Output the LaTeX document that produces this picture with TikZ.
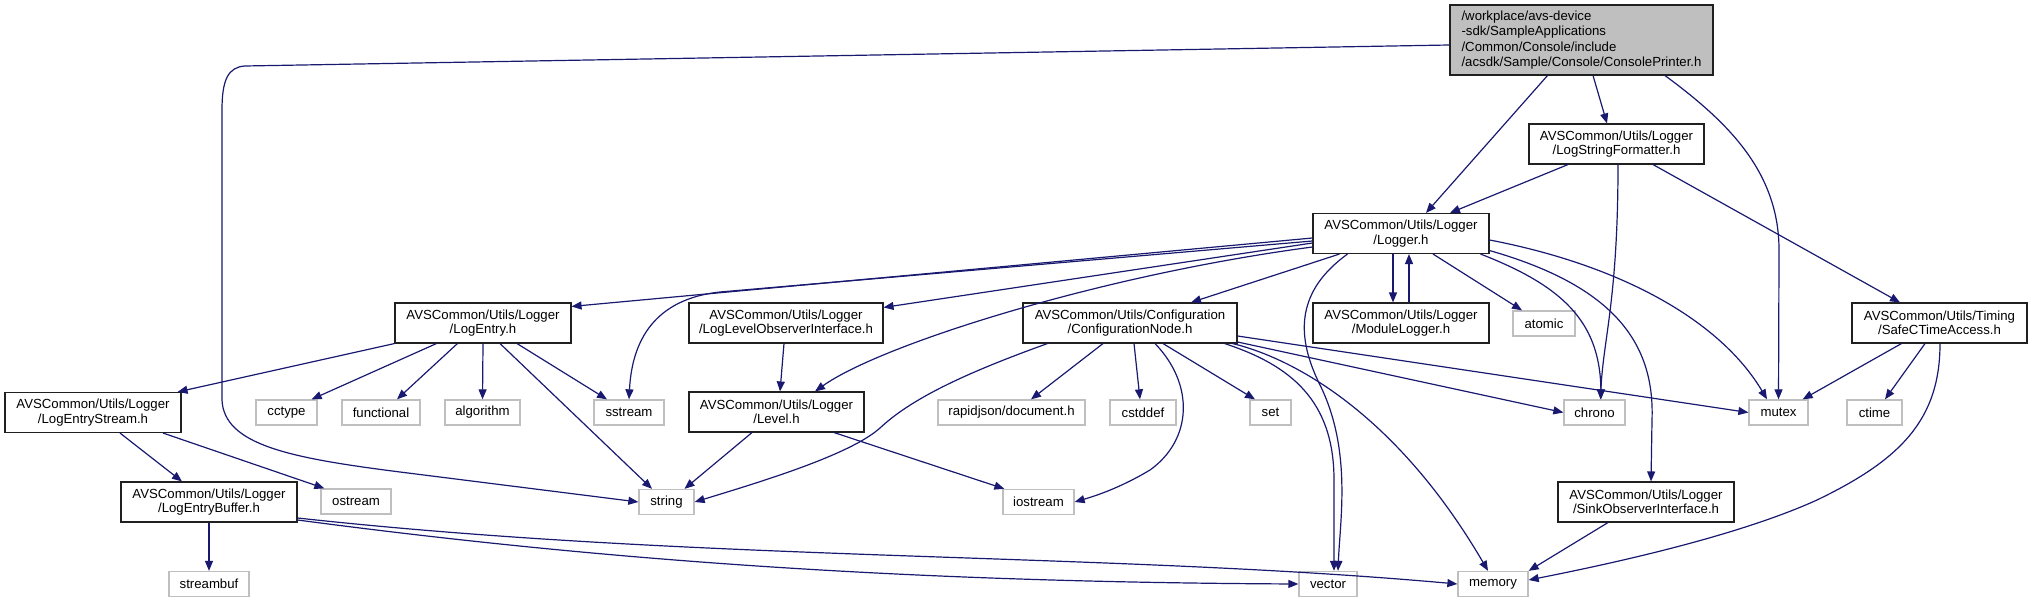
\documentclass[tikz,border=0pt]{standalone}
\usepackage{fontspec}
\setmainfont{Liberation Sans}
\usetikzlibrary{arrows.meta,calc}
\definecolor{edgeblue}{HTML}{191970}
\definecolor{lgray}{HTML}{BFBFBF}
\definecolor{rootgray}{HTML}{BFBFBF}
\definecolor{boxline}{HTML}{202020}
\newcommand{\fsn}{\fontsize{6.6}{7.2}\selectfont}
\newcommand{\fsr}{\fontsize{6.6}{7.8}\selectfont}
\begin{document}
\begin{tikzpicture}[x=0.5pt,y=-0.5pt,
  box/.style={draw=boxline, fill=white, line width=0.55pt, inner sep=0pt, minimum height=20pt, align=center, font=\fsn},
  lbox/.style={draw=lgray, fill=white, line width=0.65pt, inner sep=0pt, minimum height=12.5pt, align=center, font=\fsn},
  edge/.style={draw=edgeblue, line width=0.6pt, -{Triangle[length=5pt,width=4pt]}}]
\useasboundingbox (0,0) rectangle (2033,603);

% nodes
\node[box, fill=rootgray, minimum width=131.5pt, minimum height=35pt, align=left, font=\fsr] (root) at (1581.5,40) {/workplace/avs-device\\-sdk/SampleApplications\\/Common/Console/include\\/acsdk/Sample/Console/ConsolePrinter.h};
\node[box, minimum width=87.5pt] (lsf) at (1616.5,144) {AVSCommon/Utils/Logger\\/LogStringFormatter.h};
\node[box, minimum width=88pt] (logger) at (1401,233.5) {AVSCommon/Utils/Logger\\/Logger.h};
\node[box, minimum width=88pt] (logentry) at (483,323) {AVSCommon/Utils/Logger\\/LogEntry.h};
\node[box, minimum width=97pt] (llo) at (786,323) {AVSCommon/Utils/Logger\\/LogLevelObserverInterface.h};
\node[box, minimum width=107pt] (confnode) at (1130,323) {AVSCommon/Utils/Configuration\\/ConfigurationNode.h};
\node[box, minimum width=88pt] (modlog) at (1401,323) {AVSCommon/Utils/Logger\\/ModuleLogger.h};
\node[lbox, minimum width=31pt] (atomic) at (1544,323.5) {atomic};
\node[box, minimum width=87.5pt] (safetime) at (1939.5,323) {AVSCommon/Utils/Timing\\/SafeCTimeAccess.h};
\node[box, minimum width=88pt] (les) at (93,412.5) {AVSCommon/Utils/Logger\\/LogEntryStream.h};
\node[lbox, minimum width=30.5pt] (cctype) at (286.5,412.5) {cctype};
\node[lbox, minimum width=39pt] (functional) at (381,412.5) {functional};
\node[lbox, minimum width=37.5pt] (algorithm) at (482.5,412.5) {algorithm};
\node[lbox, minimum width=35pt] (sstream) at (629,412.5) {sstream};
\node[box, minimum width=87.5pt] (level) at (776.5,412) {AVSCommon/Utils/Logger\\/Level.h};
\node[lbox, minimum width=73.5pt] (rapidjson) at (1011.5,412.5) {rapidjson/document.h};
\node[lbox, minimum width=33pt] (cstddef) at (1143,412.5) {cstddef};
\node[lbox, minimum width=20.5pt] (set) at (1270.5,412.5) {set};
\node[lbox, minimum width=30.5pt] (chrono) at (1594.5,412.5) {chrono};
\node[lbox, minimum width=29.5pt] (mutex) at (1778.5,412.5) {mutex};
\node[lbox, minimum width=27.5pt] (ctime) at (1874.5,412.5) {ctime};
\node[box, minimum width=88pt] (leb) at (209,502) {AVSCommon/Utils/Logger\\/LogEntryBuffer.h};
\node[lbox, minimum width=35pt] (ostream) at (356,501.5) {ostream};
\node[lbox, minimum width=27.5pt] (string) at (666.5,502) {string};
\node[lbox, minimum width=35.5pt] (iostream) at (1038.5,502) {iostream};
\node[box, minimum width=88pt] (sink) at (1646,502) {AVSCommon/Utils/Logger\\/SinkObserverInterface.h};
\node[lbox, minimum width=40pt] (streambuf) at (209,584) {streambuf};
\node[lbox, minimum width=29pt] (vector) at (1328,584) {vector};
\node[lbox, minimum width=35pt] (memory) at (1493,584) {memory};

% root edges
\draw[edge] ([yshift=-2.5pt]root.west) -- (245,66) .. controls (228,67) and (222,80) .. (222,110) -- (222,400) .. controls (224,445) and (290,458) .. (400,472) -- (string.west);
\draw[edge] ([xshift=-17pt]root.south) -- ([xshift=12.5pt]logger.north);
\draw[edge] ([xshift=5.75pt]root.south) -- ([xshift=-4.75pt]lsf.north);
\draw[edge] ([xshift=41.75pt]root.south) .. controls (1725,120) and (1779,170) .. (1779,250) -- (mutex.north);

% LogStringFormatter edges
\draw[edge] ([xshift=-24.25pt]lsf.south) -- ([xshift=24.5pt]logger.north);
\draw[edge] ([xshift=0.75pt]lsf.south) .. controls (1618,300) and (1603,340) .. ([xshift=3pt]chrono.north);
\draw[edge] ([xshift=18.25pt]lsf.south) -- ([xshift=-19.75pt]safetime.north);

% Logger edges
\draw[edge] ([yshift=-2.25pt]logger.west) -- ([yshift=-2pt]logentry.north east);
\draw[edge] ([yshift=-3.75pt]logger.west) -- (720,292) .. controls (655,299) and (632,340) .. (sstream.north);
\draw[edge] ([yshift=-4.75pt]logger.west) -- ([yshift=-2.5pt]llo.north east);
\draw[edge] ([yshift=-6.75pt]logger.west) .. controls (1100,275) and (880,345) .. ([xshift=19.25pt]level.north);
\draw[edge] ([xshift=13.5pt]logger.south west) -- ([xshift=30.5pt]confnode.north);
\draw[edge] ([xshift=17.5pt]logger.south west) .. controls (1305,285) and (1290,325) .. (1320,385) .. controls (1352,450) and (1340,520) .. ([xshift=5pt]vector.north);
\draw[edge] ([xshift=-4pt]logger.south) -- ([xshift=-4pt]modlog.north);
\draw[edge] ([xshift=4pt]modlog.north) -- ([xshift=4pt]logger.south);
\draw[edge] ([xshift=16pt]logger.south) -- ([xshift=-11pt]atomic.north);
\draw[edge] ([xshift=-4.5pt]logger.south east) .. controls (1560,285) and (1600,320) .. ([xshift=3.25pt]chrono.north);
\draw[edge] ([yshift=1.75pt]logger.south east) .. controls (1610,285) and (1655,340) .. (1652,420) -- ([xshift=2.5pt]sink.north);
\draw[edge] ([yshift=-3.25pt]logger.east) .. controls (1620,265) and (1720,320) .. ([xshift=-5.75pt]mutex.north);

% ConfigurationNode edges
\draw[edge] ([xshift=12.5pt]confnode.south west) .. controls (960,375) and (910,400) .. (880,428) .. controls (850,455) and (760,482) .. (string.east);
\draw[edge] ([xshift=-13.5pt]confnode.south) -- ([xshift=9.75pt]rapidjson.north);
\draw[edge] ([xshift=2pt]confnode.south) -- ([xshift=-1.5pt]cstddef.north);
\draw[edge] ([xshift=12.5pt]confnode.south) .. controls (1195,385) and (1192,440) .. (1150,470) .. controls (1120,488) and (1095,496) .. (iostream.east);
\draw[edge] ([xshift=16.5pt]confnode.south) -- ([xshift=-7.75pt]set.north);
\draw[edge] ([xshift=-6.5pt]confnode.south east) .. controls (1290,365) and (1334,400) .. (1334,480) -- ([xshift=3pt]vector.north);
\draw[edge] ([xshift=-2.5pt]confnode.south east) .. controls (1300,360) and (1400,420) .. ([xshift=-2.5pt]memory.north);
\draw[edge] ([yshift=-9.5pt]confnode.east) -- (chrono.west);
\draw[edge] ([yshift=-6.5pt]confnode.east) -- (mutex.west);

% LogEntry edges
\draw[edge] (logentry.south west) -- ([xshift=-2pt]les.north east);
\draw[edge] ([xshift=21pt]logentry.south west) -- ([xshift=-3pt]cctype.north east);
\draw[edge] ([xshift=31.5pt]logentry.south west) -- ([xshift=8pt]functional.north);
\draw[edge] (logentry.south) -- (algorithm.north);
\draw[edge] ([xshift=17pt]logentry.south) -- ([xshift=-11pt]sstream.north);
\draw[edge] ([xshift=8.5pt]logentry.south) -- ([xshift=-7.25pt]string.north);

% LogEntryStream edges
\draw[edge] ([xshift=13.5pt]les.south) -- ([xshift=-13.5pt]leb.north);
\draw[edge] ([xshift=35pt]les.south) -- ([xshift=2pt]ostream.north west);

% LogEntryBuffer edges
\draw[edge] (leb.south) -- (streambuf.north);
\draw[edge] ([yshift=-9pt]leb.east) .. controls (600,560) and (900,582) .. (vector.west);
\draw[edge] ([yshift=-8pt]leb.east) .. controls (700,562) and (1100,552) .. (memory.west);

% Level edges
\draw[edge] ([xshift=-1pt]llo.south) -- ([xshift=1.75pt]level.north);
\draw[edge] ([xshift=-12.25pt]level.south) -- ([xshift=9pt]string.north);
\draw[edge] ([xshift=28.75pt]level.south) -- ([xshift=1pt]iostream.north west);

% SafeCTimeAccess edges
\draw[edge] ([xshift=25pt]safetime.south west) -- ([xshift=-3pt]mutex.north east);
\draw[edge] ([xshift=-7.25pt]safetime.south) -- ([xshift=5.25pt]ctime.north);
\draw[edge] ([xshift=0.25pt]safetime.south) .. controls (1940,420) and (1900,460) .. (1817,500) .. controls (1740,535) and (1620,562) .. ([yshift=2pt]memory.east);

% SinkObserverInterface edge
\draw[edge] ([xshift=-19pt]sink.south) -- (memory.north east);
\end{tikzpicture}
\end{document}
